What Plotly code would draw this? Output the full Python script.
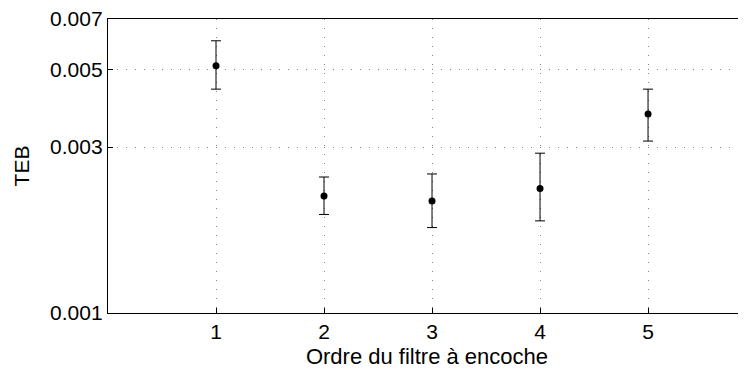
import math
import plotly.graph_objects as go

orders = [1, 2, 3, 4, 5]
teb = [0.00514, 0.00217, 0.00210, 0.00228, 0.00373]
err_hi = [0.00606, 0.00246, 0.00251, 0.00288, 0.00440]
err_lo = [0.00440, 0.00192, 0.00176, 0.00184, 0.00312]
ytick_vals = [0.001, 0.003, 0.005, 0.007]
ytick_text = ["0.001", "0.003", "0.005", "0.007"]
xtick_vals = [1, 2, 3, 4, 5]

plus = [h - v for h, v in zip(err_hi, teb)]
minus = [v - l for v, l in zip(teb, err_lo)]

fig = go.Figure()
fig.add_trace(go.Scatter(
    x=orders, y=teb, mode="markers",
    marker=dict(color="black", size=7),
    error_y=dict(type="data", symmetric=False, array=plus, arrayminus=minus,
                 color="black", thickness=1, width=5),
    showlegend=False,
))

family = "Liberation Sans, Arial, sans-serif"
tickfont = dict(family=family, size=21, color="black")
titlefont = dict(family=family, size=22, color="black")
grid = dict(showgrid=True, gridcolor="#888888", griddash="1px,8px", gridwidth=1)
fig.update_layout(
    width=738, height=361,
    margin=dict(l=100, r=0, t=11, b=56),
    paper_bgcolor="white", plot_bgcolor="white",
    font=tickfont,
    xaxis=dict(
        range=[0, 5.907], tickvals=xtick_vals, ticks="inside", ticklen=5,
        tickcolor="black", showline=True, linecolor="black", linewidth=1.4,
        mirror=True, zeroline=False,
        title=dict(text="Ordre du filtre à encoche", standoff=7, font=titlefont),
        tickfont=tickfont, **grid,
    ),
    yaxis=dict(
        type="log", range=[-3, math.log10(0.007)], tickvals=ytick_vals,
        ticktext=ytick_text, ticks="inside", ticklen=5, tickcolor="black",
        showline=True, linecolor="black", linewidth=1.4, mirror=False,
        zeroline=False, ticklabeloverflow="allow",
        title=dict(text="TEB", standoff=14, font=tickfont),
        tickfont=tickfont, **grid,
    ),
)

fig.write_html("out.html")
